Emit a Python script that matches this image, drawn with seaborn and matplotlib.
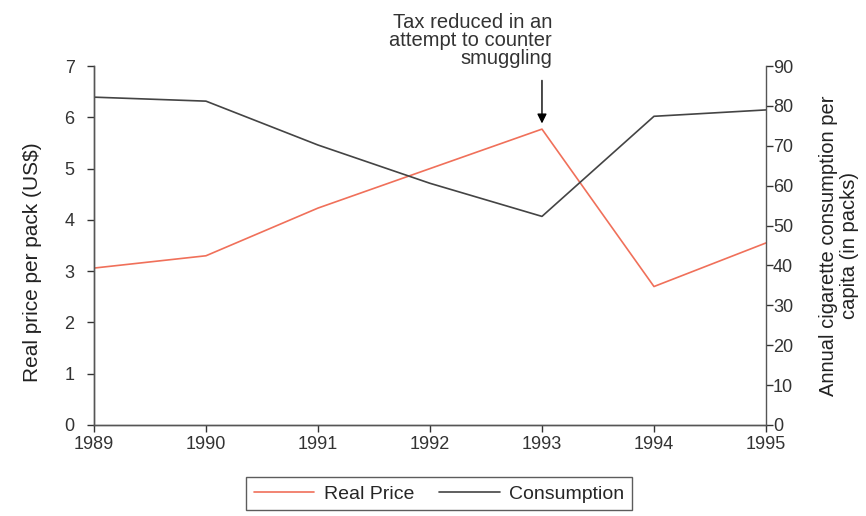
import matplotlib
matplotlib.use("Agg")
import matplotlib.pyplot as plt
import seaborn as sns
import pandas as pd

# data
years = [1989, 1990, 1991, 1992, 1993, 1994, 1995]
real_price = [3.06, 3.30, 4.23, 5.00, 5.77, 2.70, 3.55]
consumption = [82.2, 81.2, 70.2, 60.6, 52.3, 77.4, 79.0]

df = pd.DataFrame({"Year": years, "Price": real_price, "Consumption": consumption})

sns.set_style("white")
plt.rcParams['font.family'] = ['Liberation Sans', 'DejaVu Sans']

fig = plt.figure(figsize=(8.66, 5.16), dpi=100)
ax1 = fig.add_axes([0.1085, 0.1764, 0.776, 0.6956])

sns.lineplot(x="Year", y="Price", data=df, color="#f0705a", linewidth=1.2, ax=ax1, label="Real Price", legend=False)
ax1.set_xlim(1989, 1995)
ax1.set_ylim(0, 7)
ax1.set_xticks(years)
ax1.set_yticks(range(0, 8))
ax1.set_xlabel("")
ax1.set_ylabel("Real price per pack (US$)", fontsize=15, color="#222222")
ax1.yaxis.set_label_coords(-0.077, 0.454)
ax1.tick_params(axis="both", direction="out", length=5, width=1, colors="#333333", labelsize=13,
                left=True, bottom=True)
ax1.tick_params(axis="x", pad=3)
ax1.tick_params(axis="y", pad=9)

ax2 = ax1.twinx()
sns.lineplot(x="Year", y="Consumption", data=df, color="#444444", linewidth=1.2, ax=ax2, label="Consumption", legend=False)
ax2.set_ylim(0, 90)
ax2.set_yticks(range(0, 100, 10))
ax2.set_ylabel("Annual cigarette consumption per\ncapita (in packs)", fontsize=14.5, color="#222222",
               linespacing=1.1)
ax2.yaxis.set_label_coords(1.079, 0.5)
ax2.tick_params(axis="y", direction="out", length=5, width=1, colors="#333333", labelsize=13, right=True, pad=0)

for ax in (ax1, ax2):
    ax.spines["top"].set_visible(False)
    for s in ("left", "right", "bottom"):
        ax.spines[s].set_color("#555555")
        ax.spines[s].set_linewidth(1)
ax1.spines["right"].set_visible(False)

# annotation for 1993
ax1.text(1993.09, 6.97, "Tax reduced in an\nattempt to counter\nsmuggling", ha="right", va="bottom",
         fontsize=14.5, color="#333333", linespacing=0.92, clip_on=False)
ax1.annotate("", xy=(1993, 5.88), xytext=(1993, 6.72), annotation_clip=False,
             arrowprops=dict(arrowstyle="-|>", color="black", lw=1, shrinkA=0, shrinkB=0,
                             mutation_scale=14))

h1, l1 = ax1.get_legend_handles_labels()
h2, l2 = ax2.get_legend_handles_labels()
leg = fig.legend(h1 + h2, l1 + l2, loc="center", bbox_to_anchor=(0.507, 0.043), ncol=2,
                 frameon=True, fancybox=False, edgecolor="#333333", fontsize=14,
                 handlelength=3.1, handletextpad=0.5, columnspacing=1.3, borderpad=0.4)
leg.get_frame().set_linewidth(1)

fig.savefig("out.png", dpi=100)
